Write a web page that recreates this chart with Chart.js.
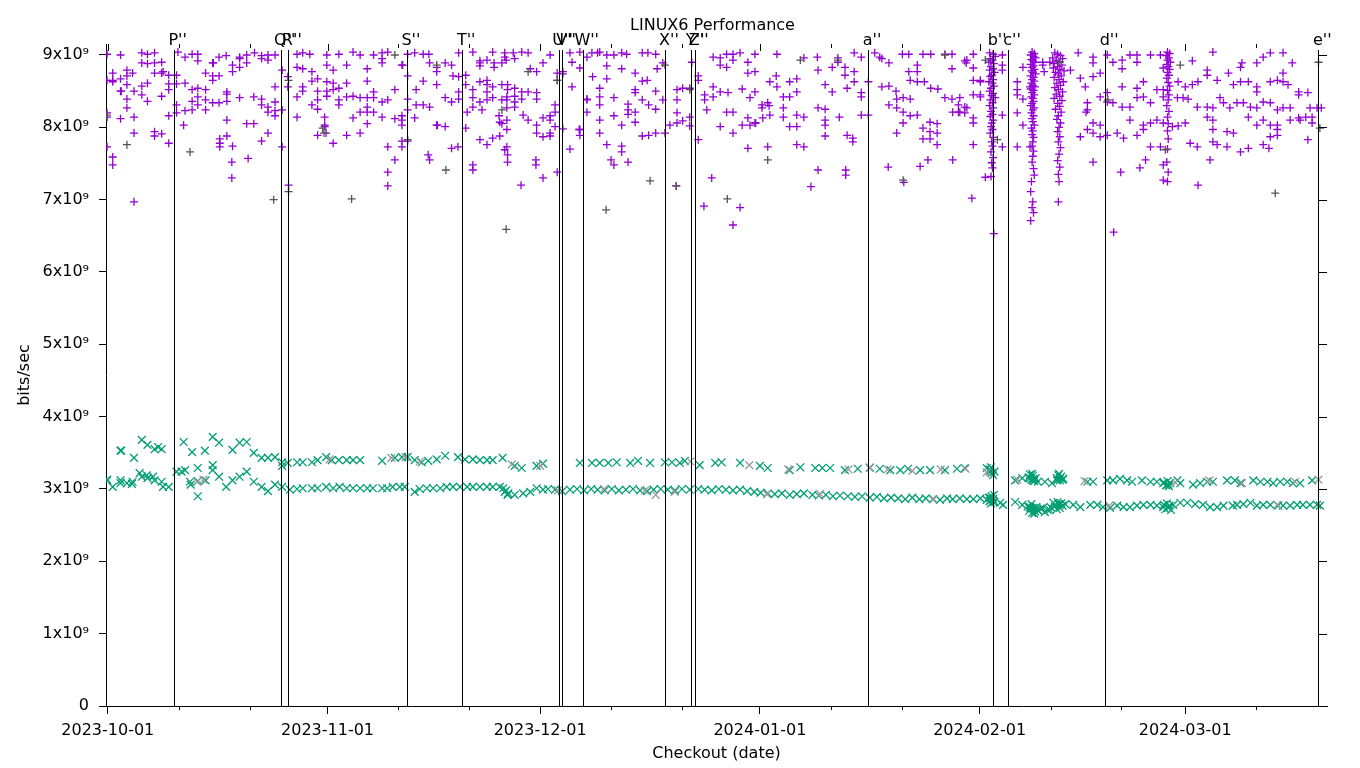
<!DOCTYPE html>
<html>
<head>
<meta charset="utf-8">
<title>LINUX6 Performance</title>
<script src="https://cdn.jsdelivr.net/npm/chart.js@4.4.1/dist/chart.umd.min.js"></script>
<style>
  body { margin: 0; background: #fff; }
  canvas { display: block; }
</style>
</head>
<body>
<canvas id="perfChart" width="1360" height="768"></canvas>
<script>
// x values are days since 2023-10-01, y values are in 1e9 bits/sec
const xTickDays = [0, 31, 61, 92, 123, 152];
const xTickLabels = ['2023-10-01', '2023-11-01', '2023-12-01', '2024-01-01', '2024-02-01', '2024-03-01'];
const xMinorDays = [10, 20, 41, 51, 71, 81, 102, 112, 133, 143, 162];
const yTickValues = [0, 1, 2, 3, 4, 5, 6, 7, 8, 9];
const yTickLabels = ['0', '1x10⁹', '2x10⁹', '3x10⁹', '4x10⁹', '5x10⁹', '6x10⁹', '7x10⁹', '8x10⁹', '9x10⁹'];

const eventDays = [9.3, 24.4, 25.4, 42.2, 50.0, 63.6, 64.1, 67.0, 78.6, 82.3, 82.8, 107.25, 124.9, 127.0, 140.7, 170.76];
const eventLabels = ["P''", "Q''", "R''", "S''", "T''", "U''", "V''", "W''", "X''", "Y''", "Z''", "a''", "b''", "c''", "d''", "e''"];

// upper band, violet '+'
const violetPlus = [
  [-0.1,9.01],[1.8,9.00],[4.8,9.03],[5.6,9.01],[6.6,9.03],[4.8,8.89],[5.6,8.88],[6.6,8.89],[7.6,8.90],[7.8,8.77],
  [0.7,8.75],[0.7,8.65],[1.8,8.67],[2.7,8.79],[2.7,8.71],[3.5,8.75],[6.6,8.75],[7.6,8.75],[-0.1,8.65],[0.7,8.63],
  [1.8,8.50],[1.9,8.50],[2.7,8.59],[3.7,8.50],[4.8,8.57],[5.6,8.61],[2.7,8.39],[4.8,8.45],[7.6,8.43],[2.7,8.27],
  [-0.1,8.20],[-0.1,8.14],[1.8,8.12],[3.7,8.14],[3.7,7.92],[6.6,7.94],[6.6,7.88],[7.6,7.91],[-0.1,7.73],[5.6,8.36],
  [8.6,8.72],[8.6,8.60],[8.6,8.52],[8.6,8.16],[8.6,7.78],[0.7,7.59],[0.7,7.48],[3.7,6.97],
  [9.7,8.72],[9.7,8.60],[10.9,8.61],[10.9,8.97],[11.9,9.01],[12.7,9.01],[12.7,8.92],[9.9,9.04],[11.9,8.52],[12.7,8.54],
  [13.8,8.52],[11.9,8.36],[12.7,8.42],[13.8,8.38],[12.7,8.31],[11.9,8.24],[10.9,8.23],[9.7,8.20],[9.7,8.31],[13.8,8.24],
  [10.7,8.03],[14.8,8.89],[14.9,8.89],[13.8,8.75],[14.8,8.71],[14.8,8.65],[15.7,8.71],[15.7,8.97],[16.7,8.99],[16.8,8.49],
  [16.8,8.46],[14.8,8.34],[15.7,8.34],[16.8,8.36],[17.6,8.86],[18.6,8.83],[19.6,8.89],[18.6,8.97],[19.6,9.00],[18.6,8.95],
  [17.6,8.77],[18.6,8.41],[20.6,8.42],[21.7,8.39],[16.8,8.10],[19.6,8.05],[20.6,8.05],[15.8,7.84],[16.8,7.88],[15.8,7.78],
  [15.8,7.73],[17.6,7.74],[20.7,9.03],[21.7,8.99],[22.6,9.00],[23.6,9.00],[21.7,8.95],[22.6,8.93],[21.7,8.31],[22.6,8.28],
  [22.6,8.21],[23.6,8.23],[23.6,8.16],[21.7,7.81],[22.6,7.92],[23.6,8.56],[23.6,8.35],[17.5,7.52],[17.5,7.30],[19.8,7.57],
  [24.6,8.79],[24.6,8.24],[24.6,7.73],[25.4,8.70],[25.4,8.56],[26.7,9.01],[27.5,9.03],[28.5,9.01],[30.9,9.00],[32.6,9.01],
  [34.6,9.04],[35.6,9.00],[37.5,9.00],[38.7,9.03],[39.5,9.04],[26.7,8.83],[27.5,8.81],[28.8,8.77],[30.9,8.86],[31.8,8.79],
  [33.7,8.86],[36.6,8.81],[38.7,8.95],[38.7,8.89],[28.8,8.64],[29.6,8.67],[30.9,8.63],[31.8,8.61],[32.6,8.54],[33.7,8.61],
  [36.6,8.64],[27.5,8.56],[27.5,8.50],[29.6,8.50],[30.9,8.50],[31.8,8.52],[26.7,8.42],[29.6,8.38],[30.9,8.43],[32.6,8.38],
  [32.6,8.31],[33.7,8.42],[34.6,8.43],[35.6,8.41],[36.6,8.41],[37.5,8.49],[37.5,8.41],[38.7,8.35],[39.5,8.38],[40.5,8.52],
  [28.8,8.31],[29.6,8.25],[35.6,8.21],[36.6,8.28],[36.6,8.21],[37.5,8.21],[38.7,8.14],[40.5,8.12],[41.5,8.16],[41.5,8.10],
  [26.7,8.14],[30.6,8.14],[30.6,8.03],[30.6,8.01],[29.6,7.89],[30.8,7.92],[33.7,7.89],[35.6,7.92],[36.6,8.05],[34.6,8.13],
  [31.8,7.78],[39.5,7.73],[41.5,7.73],[41.5,8.86],[41.6,8.86],[41.5,8.03],[41.5,7.81],[25.5,7.20],[39.5,7.38],[39.5,7.19],
  [40.5,7.55],
  [42.3,9.01],[43.3,9.03],[44.5,9.01],[45.3,9.01],[45.4,8.89],[46.4,8.83],[46.4,8.77],[47.6,8.89],[48.5,8.86],[48.7,8.71],
  [49.5,8.70],[42.3,8.71],[44.5,8.64],[46.4,8.59],[50.5,8.72],[43.5,8.52],[42.3,8.39],[44.5,8.31],[45.4,8.28],[43.5,8.31],
  [42.3,8.24],[43.3,8.13],[47.6,8.41],[48.5,8.35],[49.5,8.39],[49.5,8.49],[46.4,8.03],[46.5,8.03],[47.6,8.01],[42.3,7.81],
  [49.5,9.03],[51.5,9.04],[52.5,8.92],[52.5,8.89],[52.5,8.85],[53.5,8.93],[54.3,9.04],[54.5,8.89],[54.5,8.83],[55.6,8.89],
  [56.0,9.03],[56.0,8.97],[56.2,8.93],[57.2,9.03],[57.4,8.95],[58.4,9.04],[59.3,9.03],[50.5,8.59],[51.5,8.52],[52.5,8.63],
  [53.5,8.65],[53.5,8.59],[53.5,8.49],[54.3,8.56],[55.6,8.59],[56.4,8.59],[56.4,8.52],[57.4,8.54],[57.4,8.43],[58.4,8.49],
  [59.3,8.49],[59.6,8.81],[60.5,8.77],[61.4,8.89],[62.4,9.00],[51.5,8.41],[52.5,8.35],[53.5,8.38],[54.3,8.41],[55.6,8.38],
  [56.3,8.42],[56.3,8.38],[57.4,8.35],[58.4,8.39],[60.5,8.39],[60.5,8.48],[50.7,8.21],[51.5,8.28],[52.8,8.24],[55.2,8.16],
  [55.3,8.07],[55.6,8.05],[56.3,8.27],[56.3,8.10],[57.4,8.28],[58.6,8.17],[59.3,8.10],[60.5,8.03],[61.4,8.13],[62.4,8.10],
  [62.4,8.16],[50.5,7.99],[52.5,7.83],[53.5,7.76],[54.3,7.85],[55.3,7.88],[56.3,7.97],[60.5,7.92],[61.4,7.87],[62.4,7.92],
  [62.4,7.88],[48.5,7.71],[49.4,7.73],[56.3,7.73],[63.4,8.75],[63.4,8.65],[45.2,7.62],[45.4,7.55],[51.5,7.48],[51.5,7.41],
  [56.0,7.69],[56.4,7.62],[56.4,7.52],[58.3,7.20],[60.4,7.55],[60.4,7.48],[61.4,7.30],[63.4,7.38],
  [64.2,8.77],[64.2,8.74],[65.2,9.03],[65.5,8.90],[66.6,9.04],[66.6,8.82],[67.6,8.97],[68.3,9.03],[69.1,9.03],[63.1,8.31],
  [63.1,8.21],[63.1,8.01],[64.2,7.98],[65.5,8.56],[66.6,7.97],[66.6,7.89],[67.6,8.39],[67.6,8.21],[65.2,7.70],[69.4,9.04],
  [70.4,9.00],[71.4,9.00],[72.5,9.03],[73.2,9.01],[75.4,9.03],[76.2,9.03],[77.3,9.01],[70.4,8.85],[72.5,8.81],[74.4,8.75],
  [77.5,8.81],[78.3,8.89],[68.4,8.70],[70.4,8.67],[75.4,8.64],[76.1,8.65],[69.4,8.54],[74.4,8.52],[74.4,8.48],[77.3,8.50],
  [67.6,8.38],[69.4,8.42],[71.4,8.41],[73.4,8.32],[75.4,8.38],[76.3,8.31],[78.3,8.38],[80.3,8.38],[80.3,8.52],[81.1,8.54],
  [82.1,8.54],[69.4,8.31],[71.4,8.16],[73.4,8.24],[73.4,8.18],[74.4,8.21],[77.3,8.25],[80.3,8.20],[69.4,8.10],[72.5,8.03],
  [74.4,8.07],[75.4,7.88],[76.3,7.89],[77.3,7.92],[78.6,7.92],[79.3,8.03],[80.3,8.06],[81.1,8.09],[82.1,8.14],[82.1,8.02],
  [69.4,7.92],[70.4,7.76],[72.5,7.74],[66.5,7.97],[82.4,8.90],[83.3,8.71],[83.3,8.65],[83.3,7.83],[71.0,7.55],[71.4,7.48],
  [72.5,7.66],[73.4,7.52],[80.2,7.19],[84.1,6.91],[85.2,7.30],[88.2,6.65],[89.2,6.89],
  [84.2,8.45],[84.2,8.38],[85.4,8.42],[86.4,8.49],[87.5,8.48],[85.4,8.56],[85.4,8.97],[86.4,8.96],[87.3,9.01],[88.2,9.01],
  [89.2,9.03],[86.4,8.86],[87.3,8.83],[88.2,8.93],[84.5,8.24],[87.3,8.21],[88.2,8.21],[86.4,8.01],[88.2,7.92],[89.5,8.03],
  [90.6,8.03],[91.4,8.06],[92.4,8.13],[93.4,8.17],[95.3,8.14],[97.2,8.17],[98.2,8.14],[96.2,8.01],[97.2,8.01],[89.5,8.53],
  [90.6,8.41],[91.3,8.49],[92.3,8.31],[93.1,8.34],[94.3,8.71],[95.3,8.42],[96.2,8.42],[97.2,8.49],[97.2,8.67],[90.3,8.90],
  [90.3,8.75],[91.3,8.77],[91.3,9.01],[93.4,8.63],[94.4,8.56],[96.2,8.63],[90.3,8.13],[91.3,8.06],[92.3,8.27],[93.3,8.30],
  [95.3,8.27],[90.3,7.71],[93.1,7.73],[97.2,7.76],[98.2,7.73],[94.4,9.01],[98.2,8.96],[100.1,8.97],[100.2,8.79],[101.2,8.59],
  [100.2,8.27],[101.2,8.25],[101.2,8.10],[101.2,8.03],[101.2,7.88],[102.2,8.49],[102.2,8.83],[103.0,8.96],[103.0,8.90],[104.0,8.83],
  [104.0,8.72],[104.3,8.54],[103.2,8.14],[104.3,7.89],[105.1,7.85],[105.1,7.80],[105.3,9.03],[106.3,8.97],[105.3,8.77],[105.3,8.63],
  [106.3,8.48],[106.3,8.42],[106.3,8.17],[107.3,8.17],[107.3,8.63],[108.2,9.03],[108.9,8.97],[109.2,8.95],[110.2,8.89],[109.2,8.56],
  [110.2,8.57],[111.2,8.50],[111.3,8.39],[110.2,8.31],[111.3,8.27],[112.2,8.21],[113.2,8.39],[112.2,8.41],[111.3,7.92],[112.2,8.06],
  [113.2,8.16],[114.2,8.17],[115.0,7.99],[116.0,8.07],[116.0,7.94],[117.0,8.05],[117.0,7.92],[117.0,7.76],[115.0,7.84],[116.0,7.84],
  [112.1,9.01],[113.0,9.01],[115.0,9.01],[116.1,9.01],[118.1,9.01],[119.1,9.01],[114.2,8.86],[114.2,8.77],[113.0,8.77],[113.2,8.65],
  [114.2,8.63],[115.2,8.63],[116.1,8.54],[117.1,8.53],[118.1,8.41],[119.1,8.39],[119.1,8.81],[120.0,8.31],[120.0,8.21],[120.9,8.28],
  [120.9,8.20],[120.9,8.92],[121.1,8.89],[122.1,9.01],[122.1,8.65],[122.1,8.45],[122.1,8.13],[122.1,7.76],[123.1,8.65],[123.1,8.45],
  [123.1,8.42],[123.1,8.63],[122.1,8.82],[121.2,8.93],[120.2,8.41],[120.2,8.21],[121.2,8.27],[119.2,8.21],[122.1,8.06],[99.2,7.18],
  [100.2,7.41],[104.1,7.41],[104.1,7.34],[110.1,7.45],[112.3,7.24],[114.6,7.46],[115.7,7.55],[121.9,7.02],[123.8,7.31],[119.2,7.55],
  // b'' column
  [124.4,9.03],[124.9,9.01],[125.2,8.98],[124.5,8.95],[124.8,8.93],[124.3,8.90],[125.0,8.88],[124.6,8.84],[124.9,8.81],[124.4,8.79],
  [125.1,8.76],[124.7,8.72],[124.5,8.70],[124.9,8.66],[124.3,8.63],[124.8,8.61],[125.0,8.57],[124.6,8.54],[124.4,8.50],[124.9,8.47],
  [124.7,8.44],[125.2,8.41],[124.5,8.38],[124.8,8.34],[124.4,8.30],[124.9,8.27],[124.6,8.22],[124.8,8.18],[124.5,8.15],[124.9,8.10],
  [124.7,8.06],[124.6,8.01],[124.8,7.97],[124.5,7.92],[124.9,7.86],[124.7,7.80],[124.8,7.74],[124.6,7.66],[124.9,7.58],[124.7,7.51],
  [124.8,7.44],[124.6,7.32],[125.0,6.53],
  [126.2,9.00],[126.2,8.86],[126.2,8.79],[126.2,8.17],[126.2,7.73],[128.3,8.63],[128.3,8.20],[128.3,7.73],[129.1,8.83],[129.1,8.39],
  [129.1,8.03],[130.1,8.56],[130.1,7.73],[128.3,8.52],[128.3,8.45],[131.9,8.90],[131.9,8.86],[132.9,8.90],[132.1,8.77],[135.8,8.79],
  [136.9,9.03],[137.9,8.56],[138.2,8.34],[138.2,8.24],[139.0,8.97],[139.0,8.89],[140.0,8.75],[139.0,8.06],[140.0,8.03],[138.2,7.97],
  [137.2,7.87],[139.0,7.92],[140.0,7.87],[137.2,8.68],[139.0,8.70],[140.0,8.42],[138.0,8.21],[139.0,7.52],[141.9,6.55],[134.1,6.97],
  // early-February columns
  [130.4,9.04],[130.7,9.02],[130.2,9.00],[130.6,8.98],[130.9,8.96],[130.3,8.94],[130.5,8.92],[130.8,8.90],[130.2,8.87],[130.6,8.85],
  [130.4,8.83],[130.7,8.80],[130.3,8.78],[130.5,8.76],[130.9,8.74],[130.2,8.71],[130.6,8.69],[130.4,8.66],[130.7,8.64],[130.3,8.61],
  [130.5,8.58],[130.8,8.56],[130.2,8.53],[130.6,8.51],[130.4,8.48],[130.7,8.45],[130.3,8.42],[130.5,8.40],[130.6,8.36],[130.4,8.33],
  [130.2,8.30],[130.7,8.27],[130.5,8.24],[130.3,8.20],[130.6,8.16],[130.4,8.12],[130.5,8.08],[130.7,8.03],[130.3,7.99],[130.5,7.95],
  [130.4,7.90],[130.6,7.86],[130.5,7.80],[130.4,7.74],[130.6,7.67],[130.5,7.60],[130.4,7.52],[130.6,7.43],[130.7,7.34],[130.3,7.25],
  [130.2,7.11],[130.5,6.97],[130.4,6.89],[130.6,6.82],[130.2,6.71],
  [133.6,9.03],[134.0,9.01],[134.4,8.99],[133.3,8.96],[134.7,8.95],[133.8,8.93],[134.2,8.91],[133.5,8.88],[134.6,8.86],[134.0,8.84],
  [133.4,8.82],[134.3,8.80],[134.9,8.78],[133.7,8.76],[134.1,8.74],[134.5,8.71],[133.5,8.69],[134.2,8.66],[134.8,8.63],[133.9,8.61],
  [134.4,8.58],[133.6,8.55],[134.1,8.52],[134.7,8.49],[133.8,8.46],[134.3,8.43],[133.5,8.40],[134.6,8.37],[134.0,8.33],[134.3,8.29],
  [133.7,8.25],[134.5,8.21],[134.1,8.16],[133.9,8.11],[134.4,8.06],[134.2,8.00],[134.0,7.94],[134.3,7.87],[134.1,7.80],[134.4,7.72],
  [134.2,7.63],[134.0,7.54],[134.3,7.45],[134.1,7.35],[134.2,7.25],
  [141.0,9.00],[141.8,8.90],[143.1,8.93],[143.1,8.81],[144.2,9.00],[145.2,9.00],[145.2,8.90],[147.1,9.00],[148.5,9.00],[148.9,8.82],
  [153.0,8.92],[155.9,9.04],[159.8,8.83],[160.0,8.89],[162.1,8.89],[163.0,8.97],[164.0,9.03],[165.8,9.03],[167.1,8.89],[141.0,8.48],
  [141.0,8.35],[141.8,8.34],[143.1,8.28],[144.2,8.28],[145.2,8.41],[146.1,8.42],[147.1,8.34],[148.0,8.52],[148.9,8.52],[148.9,8.42],
  [150.9,8.41],[151.7,8.41],[152.4,8.39],[153.7,8.28],[155.1,8.28],[155.9,8.27],[157.4,8.34],[156.9,8.41],[158.3,8.27],[159.3,8.34],
  [160.2,8.34],[161.2,8.28],[162.1,8.27],[163.0,8.35],[164.0,8.34],[165.0,8.24],[165.8,8.27],[166.8,8.27],[168.0,8.49],[168.0,8.45],
  [169.3,8.48],[169.6,8.27],[170.6,8.27],[171.2,8.27],[143.1,8.56],[145.2,8.54],[146.1,8.63],[151.0,8.63],[152.0,8.56],[153.0,8.59],
  [153.8,8.63],[155.1,8.79],[155.1,8.72],[156.5,8.65],[158.1,8.75],[158.8,8.59],[159.8,8.63],[160.9,8.63],[162.1,8.56],[162.1,8.49],
  [164.0,8.63],[165.0,8.65],[165.8,8.75],[165.8,8.63],[166.5,8.59],[144.2,8.10],[146.1,8.03],[146.1,7.97],[147.1,8.06],[148.0,8.10],
  [148.9,8.06],[150.2,8.01],[151.0,8.02],[152.0,8.06],[155.1,8.14],[155.9,8.10],[155.9,7.97],[157.9,7.94],[158.8,7.92],[160.9,8.14],
  [162.1,8.03],[163.0,8.10],[164.0,8.03],[165.0,8.03],[165.0,7.97],[166.8,8.10],[168.0,8.13],[169.0,8.14],[169.9,8.14],[169.9,8.06],
  [168.2,8.10],[141.0,7.89],[142.4,7.92],[143.3,7.85],[145.2,7.89],[147.1,7.73],[148.5,7.73],[152.7,7.78],[153.7,7.73],[155.9,7.80],
  [156.5,7.76],[157.9,7.73],[160.9,7.71],[163.0,7.76],[164.0,7.87],[165.0,7.89],[169.3,7.83],[142.9,7.38],[146.4,7.55],[148.9,7.27],
  [148.9,7.48],[153.8,7.20],[155.5,7.55],[159.8,7.66],[163.8,7.71],[145.6,7.44],
  // late-February column
  [149.5,9.04],[149.8,9.02],[149.3,8.99],[149.7,8.96],[149.5,8.93],[149.9,8.90],[149.4,8.87],[149.6,8.84],[149.8,8.80],[149.5,8.76],
  [149.7,8.72],[149.4,8.68],[149.6,8.62],[149.8,8.57],[149.5,8.51],[149.7,8.45],[149.6,8.38],[149.4,8.30],[149.7,8.22],[149.5,8.14],
  [149.6,8.05],[149.5,7.95],[149.6,7.84],[149.5,7.70],[149.4,7.52],[149.6,7.38],[149.5,7.25]
];

// upper band, gray '+'
const grayPlus = [
  [-0.1,8.17],[2.7,7.76],[11.6,7.66],[23.4,7.00],[25.5,8.65],[25.5,7.11],[30.3,7.99],[30.5,7.92],[34.4,7.01],[40.5,9.00],
  [42.3,7.83],[46.4,8.86],[47.7,7.41],[55.6,8.24],[56.2,6.59],[59.3,8.77],[63.4,8.65],[70.3,6.86],[76.5,7.26],[78.6,8.86],
  [80.2,7.19],[82.1,8.52],[87.4,7.01],[93.1,7.55],[97.7,8.93],[103.0,8.93],[112.2,7.27],[118.1,9.00],[123.8,8.93],[125.5,7.83],
  [134.3,8.90],[141.1,8.38],[151.3,8.86],[164.7,7.09],[170.8,8.90],[171.0,7.99],[149.2,7.69]
];

// lower band, green 'x'
const greenCross = [
  [-0.1,3.12],[-0.1,3.13],[0.7,3.03],[1.8,3.12],[1.8,3.08],[2.7,3.08],[3.4,3.07],[3.5,3.10],[4.5,3.22],[4.8,3.17],
  [5.5,3.19],[5.6,3.15],[6.4,3.17],[6.6,3.12],[7.6,3.10],[7.8,3.03],[8.6,3.03],[1.8,3.53],[1.9,3.53],[3.7,3.43],
  [4.8,3.68],[5.6,3.61],[6.6,3.55],[7.6,3.55],[7.1,3.58],[9.7,3.24],[10.4,3.24],[10.9,3.26],[10.7,3.65],[11.9,3.51],
  [12.7,3.29],[13.7,3.53],[14.8,3.72],[15.7,3.64],[17.6,3.54],[18.6,3.64],[19.6,3.65],[20.6,3.50],[11.6,3.10],[11.7,3.06],
  [12.7,3.11],[12.7,2.90],[13.8,3.12],[14.8,3.33],[14.8,3.26],[15.7,3.17],[16.7,3.03],[17.6,3.12],[18.6,3.17],[19.6,3.24],
  [20.6,3.10],[21.7,3.03],[22.6,2.97],[23.6,3.06],[24.6,3.03],[21.7,3.43],[22.6,3.43],[23.6,3.44],[24.6,3.37],[24.6,3.32],
  [25.4,3.36],[26.7,3.37],[27.5,3.37],[28.8,3.37],[29.6,3.40],[30.8,3.44],[31.6,3.40],[32.6,3.40],[33.7,3.40],[34.6,3.40],
  [35.6,3.40],[38.7,3.39],[40.5,3.43],[41.5,3.44],
  [25.7,2.99],[26.7,3.00],[27.5,3.01],[28.8,3.01],[29.6,3.01],[30.8,3.03],[31.8,3.01],[32.7,3.03],[33.7,3.01],[34.6,3.01],
  [35.6,3.01],[36.6,3.01],[37.4,3.01],[38.7,3.01],[39.4,3.01],[40.2,3.03],[41.2,3.03],[41.9,3.03],
  [42.3,3.44],[43.3,3.40],[44.3,3.37],[45.2,3.39],[46.4,3.41],[47.6,3.46],[49.4,3.44],[50.4,3.41],[51.5,3.41],[52.5,3.40],
  [53.5,3.40],[54.3,3.40],[55.7,3.43],[57.4,3.32],[58.4,3.29],[60.5,3.32],[61.4,3.35],
  [43.3,2.96],[44.0,3.00],[45.0,3.01],[45.9,3.01],[46.9,3.01],[47.8,3.03],[48.7,3.03],[49.7,3.03],[50.7,3.03],[51.5,3.03],
  [52.5,3.03],[53.5,3.03],[54.3,3.03],[55.3,3.03],[56.0,2.96],[56.4,2.92],[57.4,2.92],[58.6,2.94],[59.6,2.96],[60.5,3.01],
  [61.4,2.99],[62.1,3.00],[55.8,3.01],[56.2,2.98],[56.5,2.94],
  [66.6,3.36],[68.3,3.36],[69.4,3.36],[70.6,3.36],[71.8,3.37],[73.7,3.36],[74.8,3.39],[76.5,3.36],[78.6,3.37],[79.6,3.37],
  [80.7,3.36],[81.4,3.39],[83.5,3.33],[85.7,3.36],[86.6,3.37],[89.2,3.36],
  [63.1,2.99],[64.1,2.97],[65.2,2.99],[66.2,3.00],[67.2,2.98],[68.2,3.00],[69.1,2.99],[70.1,2.98],[71.1,3.00],[72.1,2.98],
  [73.1,2.99],[74.1,3.00],[75.1,2.98],[76.1,2.97],[77.0,2.99],[78.0,3.00],[79.0,2.99],[80.0,2.98],[81.0,3.00],[82.1,2.99],
  [83.3,3.00],[84.2,2.99],[85.2,2.98],[86.2,3.00],[87.2,2.99],[88.2,2.98],[89.2,2.99],[90.2,2.97],[91.2,2.96],[92.1,2.95],
  [92.0,3.32],[93.1,3.29],[96.2,3.26],[97.7,3.30],[99.8,3.29],[100.8,3.29],[101.9,3.29],[104.0,3.26],[105.8,3.28],[107.5,3.29],
  [108.9,3.28],[110.4,3.26],[111.8,3.26],[112.9,3.28],[114.6,3.26],[116.0,3.26],[118.1,3.26],[119.8,3.28],[120.9,3.29],[124.5,3.26],
  [93.1,2.94],[94.1,2.93],[95.1,2.94],[96.2,2.92],[97.2,2.93],[98.2,2.94],[99.4,2.92],[100.3,2.91],[101.3,2.92],[102.3,2.90],
  [103.3,2.91],[104.4,2.90],[105.4,2.89],[106.4,2.90],[107.5,2.88],[108.5,2.89],[109.5,2.87],[110.5,2.88],[111.5,2.87],[112.5,2.86],
  [113.5,2.88],[114.5,2.86],[115.4,2.87],[116.4,2.86],[117.4,2.85],[118.4,2.87],[119.2,2.86],[120.2,2.87],[121.2,2.86],[122.1,2.86],
  [123.1,2.87],
  [124.0,2.85],[124.5,2.88],[124.9,2.82],[125.9,2.81],[126.3,2.78],[124.3,2.88],[124.5,2.84],[124.7,2.90],[124.9,2.86],[125.1,2.82],
  [124.6,2.80],[125.0,2.92],[124.4,2.83],[124.0,3.29],[124.5,3.24],[124.9,3.19],[124.4,3.27],[124.7,3.22],[125.1,3.24],[124.6,3.30],
  [128.0,3.12],[129.0,3.15],[130.1,3.15],[130.5,3.12],[131.2,3.10],[132.2,3.10],[133.2,3.08],[133.9,3.12],[134.3,3.15],[134.8,3.14],
  [138.2,3.10],[139.0,3.10],[141.0,3.12],[141.8,3.12],[142.8,3.14],[143.8,3.12],[144.5,3.10],[145.9,3.12],[147.1,3.10],[148.0,3.10],
  [148.9,3.08],[149.6,3.06],[150.9,3.12],[151.3,3.08],[153.1,3.06],[154.1,3.08],[155.1,3.10],[155.9,3.10],[157.9,3.12],[159.0,3.12],
  [159.8,3.08],[161.6,3.12],[162.6,3.10],[163.6,3.10],[164.4,3.08],[165.4,3.10],[166.4,3.10],[167.2,3.08],[168.2,3.08],[169.9,3.12],
  [129.9,3.16],[130.1,3.20],[130.3,3.13],[130.5,3.18],[130.7,3.11],[130.9,3.15],[130.4,3.21],[130.6,3.14],
  [133.9,3.15],[134.1,3.19],[134.3,3.12],[134.5,3.17],[134.7,3.13],[134.2,3.21],
  [149.0,3.09],[149.3,3.05],[149.5,3.11],[149.7,3.04],[149.9,3.08],
  [128.0,2.82],[129.0,2.78],[130.1,2.75],[130.5,2.74],[131.1,2.71],[131.9,2.74],[132.9,2.71],[133.4,2.81],[134.3,2.78],[135.1,2.79],
  [136.2,2.78],[137.2,2.75],[138.6,2.78],[139.6,2.78],[140.4,2.75],[141.4,2.74],[142.4,2.77],[143.3,2.75],[144.2,2.75],[145.2,2.77],
  [146.1,2.78],[147.1,2.78],[148.0,2.77],[148.9,2.75],[149.6,2.75],[150.3,2.78],[151.3,2.81],[152.3,2.81],[153.4,2.79],[154.5,2.78],
  [155.5,2.75],[156.5,2.75],[157.4,2.77],[158.7,2.77],[159.3,2.78],[160.2,2.79],[161.2,2.81],[162.1,2.77],[163.0,2.78],[164.0,2.78],
  [165.1,2.77],[165.8,2.77],[166.8,2.77],[167.8,2.78],[168.6,2.78],[169.6,2.78],[170.6,2.78],[171.0,2.77],
  [129.8,2.76],[130.0,2.70],[130.2,2.74],[130.4,2.67],[130.6,2.72],[130.8,2.69],[131.0,2.75],[130.3,2.79],[130.7,2.66],[131.3,2.70],
  [131.6,2.73],[132.2,2.68],[132.6,2.71],[133.0,2.75],
  [133.6,2.76],[133.9,2.72],[134.1,2.79],[134.3,2.74],[134.5,2.80],[134.7,2.77],[134.0,2.82],
  [149.0,2.78],[149.2,2.72],[149.4,2.80],[149.6,2.74],[149.8,2.77],[150.0,2.71]
];

// lower band, gray 'x'
const grayCross = [
  [12.6,3.10],[13.5,3.13],[31.3,3.41],[40.0,3.43],[42.0,3.44],[44.0,3.38],[57.0,3.34],[61.0,3.32],[63.5,2.98],[70.0,3.00],
  [75.8,2.98],[77.3,2.92],[80.0,2.96],[82.2,3.38],[90.5,3.33],[93.0,2.93],[96.0,3.27],[100.5,2.93],[104.5,3.27],[107.5,3.30],
  [110.0,3.27],[113.5,3.25],[116.5,2.86],[117.5,3.27],[121.0,3.28],[124.0,3.23],[128.3,3.13],[137.8,3.11],[141.3,2.77],[150.6,3.09],
  [155.4,3.12],[160.0,3.08],[165.0,2.78],[167.5,3.10],[170.8,3.13]
];

const FONT = '"DejaVu Sans", sans-serif';
const toPoints = pairs => pairs.map(([d, r]) => ({x: d, y: r * 1e9}));

const markerSet = (pairs, style, radius, color) => ({
    data: toPoints(pairs),
    pointStyle: style,
    pointRadius: radius,
    pointBorderColor: color,
    borderColor: color,
    pointBorderWidth: 1.3,
    backgroundColor: color
});

// event lines, their labels, the title and the mirror/minor ticks
const overlay = {
    id: 'overlay',
    afterDatasetsDraw(chart) {
        const {ctx, chartArea: area, scales: {x, y}} = chart;
        ctx.save();
        ctx.strokeStyle = '#000';
        ctx.lineWidth = 1;

        eventDays.forEach(d => {
            const px = Math.round(x.getPixelForValue(d)) + 0.5;
            ctx.beginPath();
            ctx.moveTo(px, area.top + 6);
            ctx.lineTo(px, area.bottom);
            ctx.stroke();
        });

        // top ticks, bottom minor ticks
        const vTick = (d, y0, y1) => {
            const px = Math.round(x.getPixelForValue(d)) + 0.5;
            ctx.beginPath();
            ctx.moveTo(px, y0);
            ctx.lineTo(px, y1);
            ctx.stroke();
        };
        xTickDays.forEach(d => vTick(d, area.top, area.top + 7));
        xMinorDays.forEach(d => {
            vTick(d, area.top, area.top + 4);
            vTick(d, area.bottom, area.bottom + 4);
        });

        // right-hand ticks
        yTickValues.forEach(v => {
            const py = Math.round(y.getPixelForValue(v * 1e9)) + 0.5;
            ctx.beginPath();
            ctx.moveTo(area.right - 9, py);
            ctx.lineTo(area.right, py);
            ctx.stroke();
        });

        ctx.fillStyle = '#000';
        ctx.font = '16px ' + FONT;
        ctx.textAlign = 'center';
        ctx.textBaseline = 'alphabetic';
        eventDays.forEach((d, i) => {
            ctx.fillText(eventLabels[i], x.getPixelForValue(d) + 4, 45);
        });
        ctx.fillText('LINUX6 Performance', (area.left + area.right) / 2 - 4, 30);
        ctx.restore();
    }
};

new Chart(document.getElementById('perfChart'), {
    type: 'scatter',
    data: {
        datasets: [
            markerSet(grayCross, 'crossRot', 5.5, '#9a9a9a'),
            markerSet(greenCross, 'crossRot', 5.5, '#009e73'),
            markerSet(grayPlus, 'cross', 4, '#555555'),
            markerSet(violetPlus, 'cross', 4, '#9400d3')
        ]
    },
    options: {
        responsive: false,
        animation: false,
        events: [],
        layout: { padding: { top: 44, right: 33, left: 0, bottom: 0 } },
        plugins: {
            legend: { display: false },
            tooltip: { enabled: false }
        },
        scales: {
            x: {
                type: 'linear',
                min: -0.25,
                max: 172,
                afterFit: s => { s.height = 62; },
                afterBuildTicks: s => { s.ticks = xTickDays.map(v => ({ value: v })); },
                ticks: {
                    autoSkip: false,
                    maxRotation: 0,
                    padding: 7,
                    color: '#000',
                    font: { family: FONT, size: 16 },
                    callback: (v, i) => xTickLabels[i]
                },
                grid: { drawOnChartArea: false, color: '#000', tickLength: 8 },
                border: { color: '#000', width: 1 },
                title: {
                    display: true,
                    text: 'Checkout (date)',
                    color: '#000',
                    font: { family: FONT, size: 16 },
                    padding: { top: 0, bottom: 5 }
                }
            },
            y: {
                min: 0,
                max: 9.152e9,
                afterFit: s => { s.width = 106; },
                afterBuildTicks: s => { s.ticks = yTickValues.map(v => ({ value: v * 1e9 })); },
                ticks: {
                    padding: 10,
                    color: '#000',
                    font: { family: FONT, size: 16 },
                    callback: (v, i) => yTickLabels[i]
                },
                grid: { drawOnChartArea: false, color: '#000', tickLength: 7 },
                border: { color: '#000', width: 1 },
                title: {
                    display: true,
                    text: 'bits/sec',
                    color: '#000',
                    font: { family: FONT, size: 16 },
                    padding: { top: 15, bottom: 0 }
                }
            }
        }
    },
    plugins: [overlay]
});
</script>
</body>
</html>
